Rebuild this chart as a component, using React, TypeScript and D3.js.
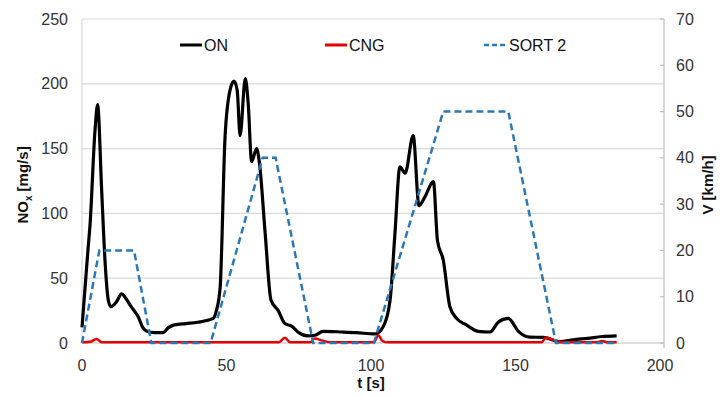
import React from 'react';
import * as d3 from 'd3';

// ON (diesel) NOx emission [mg/s]
const onT = [0, 2, 2.8, 4.5, 5.4, 6.8, 8, 9.1, 10, 12, 13.7, 15, 17, 19.5, 21, 22.5, 25, 28, 30, 32, 36, 40, 45.4, 46.5, 47.8, 49.5, 51.2, 52.6, 53.7, 54.7, 56.5, 57.5, 58.7, 60.4, 61.4, 63.3, 65.4, 67.9, 70.2, 72.5, 75, 78, 80.6, 83.4, 90, 95, 101.4, 104.3, 106.6, 108.3, 110, 111.8, 114.6, 116.6, 118.7, 121.6, 123, 125, 127.3, 129.6, 133, 137, 141.2, 144, 147.5, 151, 155, 159.6, 165.4, 170, 175, 180, 185];
const onV = [12, 70, 92, 164, 184, 118, 62, 33, 28, 32, 38, 35, 28, 20, 12, 9, 8, 8, 12, 14, 15, 16, 19, 25, 43, 159, 195, 202, 195, 160, 204, 185, 140, 150, 139, 87, 33, 25, 15, 13, 8, 5.5, 6, 9, 8.5, 8, 7, 13, 33, 85, 136, 131, 160, 106, 113, 124.5, 79, 64, 28, 19, 14, 9, 8.5, 16, 19, 9, 4.5, 4.4, 1, 2.5, 3.6, 5, 5.5];

// CNG NOx emission [mg/s]
const cngT = [0, 3, 5, 7, 68, 70.2, 72, 79, 80.5, 83, 86, 101, 102.5, 104, 106, 159, 160.5, 163, 166, 178, 180, 182, 185];
const cngV = [0.5, 1, 3, 0.5, 0.5, 4, 0.5, 0.5, 3.5, 2, 0.5, 0.5, 6, 1.5, 0.5, 0.5, 4, 2.5, 0.5, 0.5, 1.5, 0.5, 0.5];

// SORT 2 speed [km/h]
const sortT = [0, 6, 18, 24, 44.5, 62.5, 67, 80, 101, 125, 147.5, 164, 185];
const sortV = [0, 20, 20, 0, 0, 40, 40, 0, 0, 50, 50, 0, 0];

const xTicks = [0, 50, 100, 150, 200];
const leftTicks = [0, 50, 100, 150, 200, 250];
const rightTicks = [0, 10, 20, 30, 40, 50, 60, 70];

const font = '"Liberation Sans", Arial, sans-serif';

export default function App() {
  const x = d3.scaleLinear().domain([0, 200]).range([82, 660]);
  const yL = d3.scaleLinear().domain([0, 250]).range([343, 19]);
  const yR = d3.scaleLinear().domain([0, 70]).range([343, 19]);

  const lineL = d3
    .line<[number, number]>()
    .x(d => x(d[0]))
    .y(d => yL(d[1]))
    .curve(d3.curveMonotoneX);
  const lineR = d3
    .line<[number, number]>()
    .x(d => x(d[0]))
    .y(d => yR(d[1]));

  const onPts = onT.map((t, i) => [t, onV[i]] as [number, number]);
  const cngPts = cngT.map((t, i) => [t, cngV[i]] as [number, number]);
  const sortPts = sortT.map((t, i) => [t, sortV[i]] as [number, number]);

  const axisRight = x.range()[1] + 4;

  return (
    <svg
      width={720}
      height={397}
      style={{ position: 'absolute', left: 0, top: 0, background: '#fff' }}
      fontFamily={font}
    >
      {/* grid */}
      {leftTicks.map(t => (
        <line key={'g' + t} x1={x(0)} x2={axisRight} y1={yL(t)} y2={yL(t)} stroke={t === 0 ? '#bdbdbd' : '#d9d9d9'} strokeWidth={1.2} />
      ))}
      <line x1={x(0)} x2={x(0)} y1={yL(250)} y2={yL(0)} stroke="#d9d9d9" strokeWidth={1.2} />
      <line x1={axisRight} x2={axisRight} y1={yR(70)} y2={yR(0) + 5} stroke="#bdbdbd" strokeWidth={1.2} />
      {rightTicks.map(t => (
        <line key={'rt' + t} x1={axisRight - 4} x2={axisRight} y1={yR(t)} y2={yR(t)} stroke="#bdbdbd" strokeWidth={1.2} />
      ))}

      {/* series */}
      <path d={lineL(onPts) ?? ''} fill="none" stroke="#000" strokeWidth={3.2} strokeLinejoin="round" />
      <path d={lineL(cngPts) ?? ''} fill="none" stroke="#e60000" strokeWidth={2.5} strokeLinejoin="round" />
      <path d={lineR(sortPts) ?? ''} fill="none" stroke="#2b78b8" strokeWidth={2.5} strokeDasharray="7,4" />

      {/* left axis labels */}
      {leftTicks.map(t => (
        <text key={'l' + t} x={68} y={yL(t)} dy="0.35em" textAnchor="end" fontSize={16} fill="#333">
          {t}
        </text>
      ))}
      {/* right axis labels */}
      {rightTicks.map(t => (
        <text key={'r' + t} x={676} y={yR(t)} dy="0.35em" textAnchor="start" fontSize={16} fill="#333">
          {t}
        </text>
      ))}
      {/* x axis labels */}
      {xTicks.map(t => (
        <text key={'x' + t} x={x(t)} y={371} textAnchor="middle" fontSize={16} fill="#333">
          {t}
        </text>
      ))}

      {/* axis titles */}
      <text x={371} y={388} textAnchor="middle" fontSize={15} fontWeight="bold" fill="#111">
        t [s]
      </text>
      <text transform="translate(28,185) rotate(-90)" textAnchor="middle" fontSize={15} fontWeight="bold" fill="#111">
        NO<tspan fontSize={10} dy={4}>x</tspan>
        <tspan dy={-4}> [mg/s]</tspan>
      </text>
      <text transform="translate(713,185) rotate(-90)" textAnchor="middle" fontSize={15} fontWeight="bold" fill="#111">
        V [km/h]
      </text>

      {/* legend */}
      <rect x={170} y={33} width={420} height={26} fill="#fff" />
      <line x1={180} x2={202} y1={45} y2={45} stroke="#000" strokeWidth={3} />
      <text x={204} y={45} dy="0.35em" fontSize={16} fill="#111">ON</text>
      <line x1={325} x2={347} y1={45} y2={45} stroke="#e60000" strokeWidth={3} />
      <text x={349} y={45} dy="0.35em" fontSize={16} fill="#111">CNG</text>
      <line x1={484} x2={507} y1={45} y2={45} stroke="#2b78b8" strokeWidth={2.5} strokeDasharray="5,3" />
      <text x={509} y={45} dy="0.35em" fontSize={16} fill="#111">SORT 2</text>
    </svg>
  );
}
